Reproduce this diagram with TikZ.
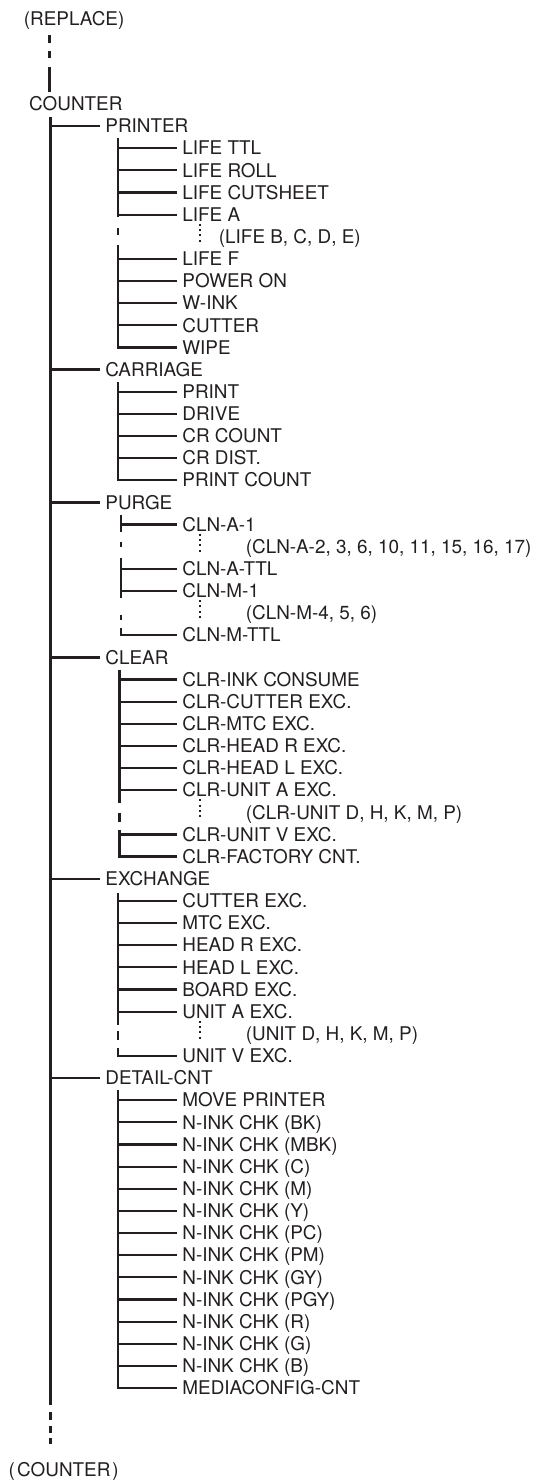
\documentclass[tikz,border=0pt]{standalone}
\usepackage{fontspec}
\setmainfont{TeX Gyre Heros}
\definecolor{ink}{HTML}{231F20}
\begin{document}
\begin{tikzpicture}[x=1pt,y=-1pt,
  every node/.style={font=\fontsize{18.9}{22}\selectfont, text=ink, inner sep=0pt, text height=13.5pt, text depth=0pt},
  lbl/.style={anchor=west, inner xsep=5.2pt},
  note/.style={anchor=west},
  trunk/.style={draw=ink, line width=3pt},
  subtrunk/.style={draw=ink, line width=2.8pt},
  br/.style={draw=ink, line width=2.2pt},
  corner/.style={draw=ink, line width=2.5pt, line join=miter},
  vdots/.style={draw=ink, line width=2pt, dash pattern=on 2pt off 3.33pt}]
\useasboundingbox (0,0) rectangle (538,1481);

% top and bottom
\node[note] (replace) at (23.7,18.3) {(REPLACE)};
\node[note] (counter) at (29,104) {COUNTER};
\node[note] (counterend) at (8.5,1470) {(\kern2.2pt COUNTER\kern2pt)};
\draw[trunk, line width=2.6pt, dash pattern=on 8pt off 8pt on 7pt off 9pt on 25pt off 20pt] (49.5,35) -- (49.5,92);
\coordinate (t0) at (50,117);
\coordinate (t1) at (50,1405);
\draw[trunk] (t0) -- (t1);
\draw[trunk, dash pattern=on 8pt off 6pt on 7pt off 5pt on 6pt off 20pt] (50,1412) -- (50,1444);

% level 1
\node[lbl] (printer) at (100,126.0) {PRINTER};
\node[lbl] (carriage) at (100,369.5) {CARRIAGE};
\node[lbl] (purge) at (100,502.4) {PURGE};
\node[lbl] (clear) at (100,657.4) {CLEAR};
\node[lbl] (exchange) at (100,878.8) {EXCHANGE};
\node[lbl] (detail) at (100,1078.0) {DETAIL-CNT};
\foreach \n in {printer,carriage,purge,clear,exchange,detail}
  \draw[br] (t0 |- \n.west) -- (\n.west);

% PRINTER
\node[lbl] (lifettl) at (177,148.1) {LIFE TTL};
\node[lbl] (liferoll) at (177,170.3) {LIFE ROLL};
\node[lbl] (lifecut) at (177,192.4) {LIFE CUTSHEET};
\node[lbl] (lifea) at (177,214.6) {LIFE A};
\node[note] (lifeb) at (218.7,236.7) {(LIFE B, C, D, E)};
\node[lbl] (lifef) at (177,258.8) {LIFE F};
\node[lbl] (poweron) at (177,281.0) {POWER ON};
\node[lbl] (wink) at (177,303.1) {W-INK};
\node[lbl] (cutter) at (177,325.3) {CUTTER};
\node[lbl] (wipe) at (177,347.4) {WIPE};
\coordinate (pA) at (118,138);
\draw[subtrunk] (pA) -- (118,217);
\draw[subtrunk] (118,228) -- (118,235);
\draw[corner] (118,245) |- (wipe.west);
\foreach \n in {lifettl,liferoll,lifecut,lifea,lifef,poweron,wink,cutter}
  \draw[br] (pA |- \n.west) -- (\n.west);
\draw[vdots] (200,223.7) -- (200,241.7);

% CARRIAGE
\node[lbl] (print) at (177,391.7) {PRINT};
\node[lbl] (drive) at (177,413.8) {DRIVE};
\node[lbl] (crcount) at (177,436.0) {CR COUNT};
\node[lbl] (crdist) at (177,458.1) {CR DIST.};
\node[lbl] (printcount) at (177,480.2) {PRINT COUNT};
\coordinate (cA) at (118,382);
\draw[corner] (cA) |- (printcount.west);
\foreach \n in {print,drive,crcount,crdist}
  \draw[br] (cA |- \n.west) -- (\n.west);

% PURGE
\node[lbl] (clna1) at (177,524.5) {CLN-A-1};
\node[note] (clna2) at (245.7,546.7) {(CLN-A-2, 3, 6, 10, 11, 15, 16, 17)};
\node[lbl] (clnattl) at (177,568.8) {CLN-A-TTL};
\node[lbl] (clnm1) at (177,590.9) {CLN-M-1};
\node[note] (clnm4) at (245.7,613.1) {(CLN-M-4, 5, 6)};
\node[lbl] (clnmttl) at (177,635.2) {CLN-M-TTL};
\coordinate (uA) at (121,515);
\draw[subtrunk] (uA) -- (121,532);
\draw[subtrunk] (121,542) -- (121,547);
\draw[subtrunk] (121,558) -- (121,598);
\draw[subtrunk] (121,615) -- (121,620);
\draw[corner] (121,628) |- (clnmttl.west);
\foreach \n in {clna1,clnattl,clnm1}
  \draw[br] (uA |- \n.west) -- (\n.west);
\draw[vdots] (200,533.7) -- (200,551.7);
\draw[vdots] (200,600.1) -- (200,618.1);

% CLEAR
\node[lbl] (clrink) at (177,679.5) {CLR-INK CONSUME};
\node[lbl] (clrcut) at (177,701.6) {CLR-CUTTER EXC.};
\node[lbl] (clrmtc) at (177,723.8) {CLR-MTC EXC.};
\node[lbl] (clrhr) at (177,745.9) {CLR-HEAD R EXC.};
\node[lbl] (clrhl) at (177,768.1) {CLR-HEAD L EXC.};
\node[lbl] (clrua) at (177,790.2) {CLR-UNIT A EXC.};
\node[note] (clrud) at (245.7,812.3) {(CLR-UNIT D, H, K, M, P)};
\node[lbl] (clruv) at (177,834.5) {CLR-UNIT V EXC.};
\node[lbl] (clrfac) at (177,856.6) {CLR-FACTORY CNT.};
\coordinate (lA) at (119.5,670);
\draw[subtrunk] (lA) -- (119.5,803);
\draw[subtrunk] (119.5,813) -- (119.5,822);
\draw[corner] (119.5,830) |- (clrfac.west);
\foreach \n in {clrink,clrcut,clrmtc,clrhr,clrhl,clrua,clruv}
  \draw[br] (lA |- \n.west) -- (\n.west);
\draw[vdots] (200,799.3) -- (200,817.3);

% EXCHANGE
\node[lbl] (cutexc) at (177,900.9) {CUTTER EXC.};
\node[lbl] (mtcexc) at (177,923.0) {MTC EXC.};
\node[lbl] (hrexc) at (177,945.2) {HEAD R EXC.};
\node[lbl] (hlexc) at (177,967.3) {HEAD L EXC.};
\node[lbl] (boardexc) at (177,989.5) {BOARD EXC.};
\node[lbl] (uaexc) at (177,1011.6) {UNIT A EXC.};
\node[note] (udexc) at (245.7,1033.7) {(UNIT D, H, K, M, P)};
\node[lbl] (uvexc) at (177,1055.9) {UNIT V EXC.};
\coordinate (eA) at (118,893);
\draw[subtrunk] (eA) -- (118,1025);
\draw[subtrunk] (118,1031) -- (118,1040);
\draw[corner] (118,1048) |- (uvexc.west);
\foreach \n in {cutexc,mtcexc,hrexc,hlexc,boardexc,uaexc}
  \draw[br] (eA |- \n.west) -- (\n.west);
\draw[vdots] (200,1020.7) -- (200,1038.7);

% DETAIL-CNT
\node[lbl] (move) at (177,1100.2) {MOVE PRINTER};
\node[lbl] (nbk) at (177,1122.3) {N-INK CHK (BK)};
\node[lbl] (nmbk) at (177,1144.4) {N-INK CHK (MBK)};
\node[lbl] (nc) at (177,1166.6) {N-INK CHK (C)};
\node[lbl] (nm) at (177,1188.7) {N-INK CHK (M)};
\node[lbl] (ny) at (177,1210.9) {N-INK CHK (Y)};
\node[lbl] (npc) at (177,1233.0) {N-INK CHK (PC)};
\node[lbl] (npm) at (177,1255.1) {N-INK CHK (PM)};
\node[lbl] (ngy) at (177,1277.3) {N-INK CHK (GY)};
\node[lbl] (npgy) at (177,1299.4) {N-INK CHK (PGY)};
\node[lbl] (nr) at (177,1321.6) {N-INK CHK (R)};
\node[lbl] (ng) at (177,1343.7) {N-INK CHK (G)};
\node[lbl] (nb) at (177,1365.8) {N-INK CHK (B)};
\node[lbl] (media) at (177,1388.0) {MEDIACONFIG-CNT};
\coordinate (dA) at (118,1090);
\draw[corner] (dA) |- (media.west);
\foreach \n in {move,nbk,nmbk,nc,nm,ny,npc,npm,ngy,npgy,nr,ng,nb}
  \draw[br] (dA |- \n.west) -- (\n.west);
\end{tikzpicture}
\end{document}
